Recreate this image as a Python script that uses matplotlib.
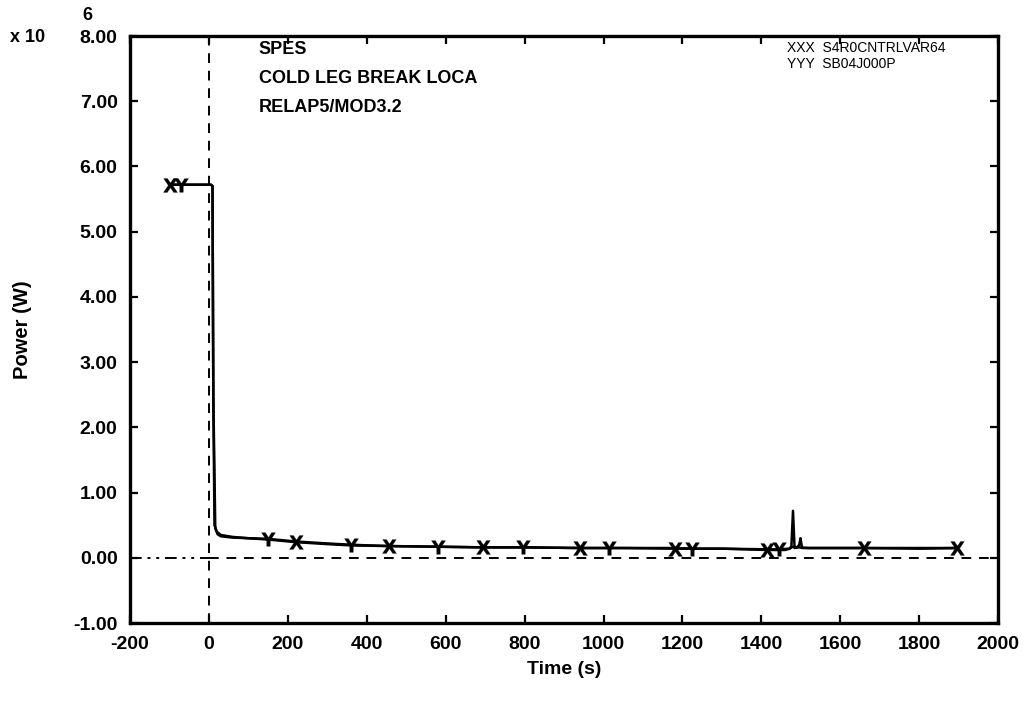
import matplotlib
matplotlib.use("Agg")
import matplotlib.pyplot as plt
import numpy as np

plt.rcParams['font.family'] = ['Liberation Sans', 'DejaVu Sans']
plt.rcParams['font.weight'] = 'bold'

# Series XXX: S4R0CNTRLVAR64 (power, x10^6 W)
t_x = [-100, -60, -20, 5, 9, 11, 14, 20, 30, 60, 100, 150, 220, 300, 360, 455, 580, 695, 800, 940, 1050, 1180, 1300, 1415, 1460, 1472, 1476, 1480, 1484, 1490, 1496, 1499, 1503, 1520, 1660, 1800, 1895]
p_x = [5.72, 5.72, 5.72, 5.72, 5.70, 2.5, 0.50, 0.40, 0.35, 0.32, 0.30, 0.28, 0.24, 0.21, 0.19, 0.18, 0.17, 0.16, 0.16, 0.15, 0.15, 0.14, 0.14, 0.12, 0.12, 0.14, 0.18, 0.72, 0.15, 0.16, 0.20, 0.30, 0.15, 0.15, 0.15, 0.14, 0.15]
mark_x = [0, 12, 15, 17, 19, 21, 23, 34, 36]

# Series YYY: SB04J000P
t_y = [-100, -70, -20, 5, 9, 11, 16, 22, 30, 60, 100, 150, 220, 300, 360, 455, 580, 695, 795, 940, 1015, 1180, 1225, 1300, 1415, 1445, 1470, 1480, 1490, 1520, 1660, 1800, 1895]
p_y = [5.72, 5.72, 5.72, 5.72, 5.70, 2.5, 0.45, 0.36, 0.33, 0.31, 0.30, 0.29, 0.25, 0.22, 0.20, 0.18, 0.17, 0.16, 0.16, 0.15, 0.15, 0.15, 0.14, 0.14, 0.13, 0.13, 0.14, 0.17, 0.16, 0.15, 0.15, 0.15, 0.15]
mark_y = [1, 11, 14, 16, 18, 20, 22, 25]

x_ticks = [-200, 0, 200, 400, 600, 800, 1000, 1200, 1400, 1600, 1800, 2000]
x_labels = ['-200', '0', '200', '400', '600', '800', '1000', '1200', '1400', '1600', '1800', '2000']
y_ticks = [-1, 0, 1, 2, 3, 4, 5, 6, 7, 8]
y_labels = ['-1.00', '0.00', '1.00', '2.00', '3.00', '4.00', '5.00', '6.00', '7.00', '8.00']

fig = plt.figure(figsize=(10.28, 7.02), dpi=100)
ax = fig.add_axes([0.1265, 0.1125, 0.8445, 0.8362])

x0, x1 = x_ticks[0], x_ticks[-1]
zero_frac = (0 - x0) / (x1 - x0)
ax.axhline(0, xmin=0, xmax=zero_frac, color='black', lw=1.4, ls=(0, (6, 3, 1.5, 3, 1.5, 3)))
ax.axhline(0, xmin=zero_frac, xmax=1, color='black', lw=1.4, ls=(0, (5, 4)))
ax.axvline(0, color='black', lw=1.4, ls=(0, (5, 4)))

ax.plot(t_y, p_y, color='black', lw=1.8, marker=r'$\mathsf{Y}$', markersize=10,
        markevery=mark_y, markeredgewidth=0.2)
ax.plot(t_x, p_x, color='black', lw=1.8, marker=r'$\mathsf{X}$', markersize=10,
        markevery=mark_x, markeredgewidth=0.2)

ax.set_xlim(x0, x1)
ax.set_ylim(y_ticks[0], y_ticks[-1])
ax.set_xticks(x_ticks)
ax.set_xticklabels(x_labels)
ax.set_yticks(y_ticks)
ax.set_yticklabels(y_labels)
ax.tick_params(direction='in', length=6, width=1.6, top=True, right=True, labelsize=14)
ax.tick_params(axis='x', pad=9)
ax.tick_params(axis='y', pad=9)
for lab in ax.get_xticklabels() + ax.get_yticklabels():
    lab.set_fontweight('bold')
for s in ax.spines.values():
    s.set_linewidth(2.4)

ax.set_xlabel('Time (s)', fontsize=14, fontweight='bold', labelpad=6)
ax.set_ylabel('Power (W)', fontsize=14.5, fontweight='bold', labelpad=30)

fig.text(0.010, 0.947, 'x 10', fontsize=13, fontweight='bold', va='center')
fig.text(0.080, 0.978, '6', fontsize=13, fontweight='bold', va='center')

title_lines = ['SPES', 'COLD LEG BREAK LOCA', 'RELAP5/MOD3.2']
for i, s in enumerate(title_lines):
    fig.text(0.2515, 1 - (50 + i * 28.5) / 702, s, fontsize=13,
             fontweight='bold', va='center')

legend_lines = ['XXX  S4R0CNTRLVAR64', 'YYY  SB04J000P']
for i, s in enumerate(legend_lines):
    fig.text(0.7655, 1 - (48 + i * 16) / 702, s, fontsize=10,
             fontweight='normal', va='center')

fig.savefig('out.png', dpi=100)
